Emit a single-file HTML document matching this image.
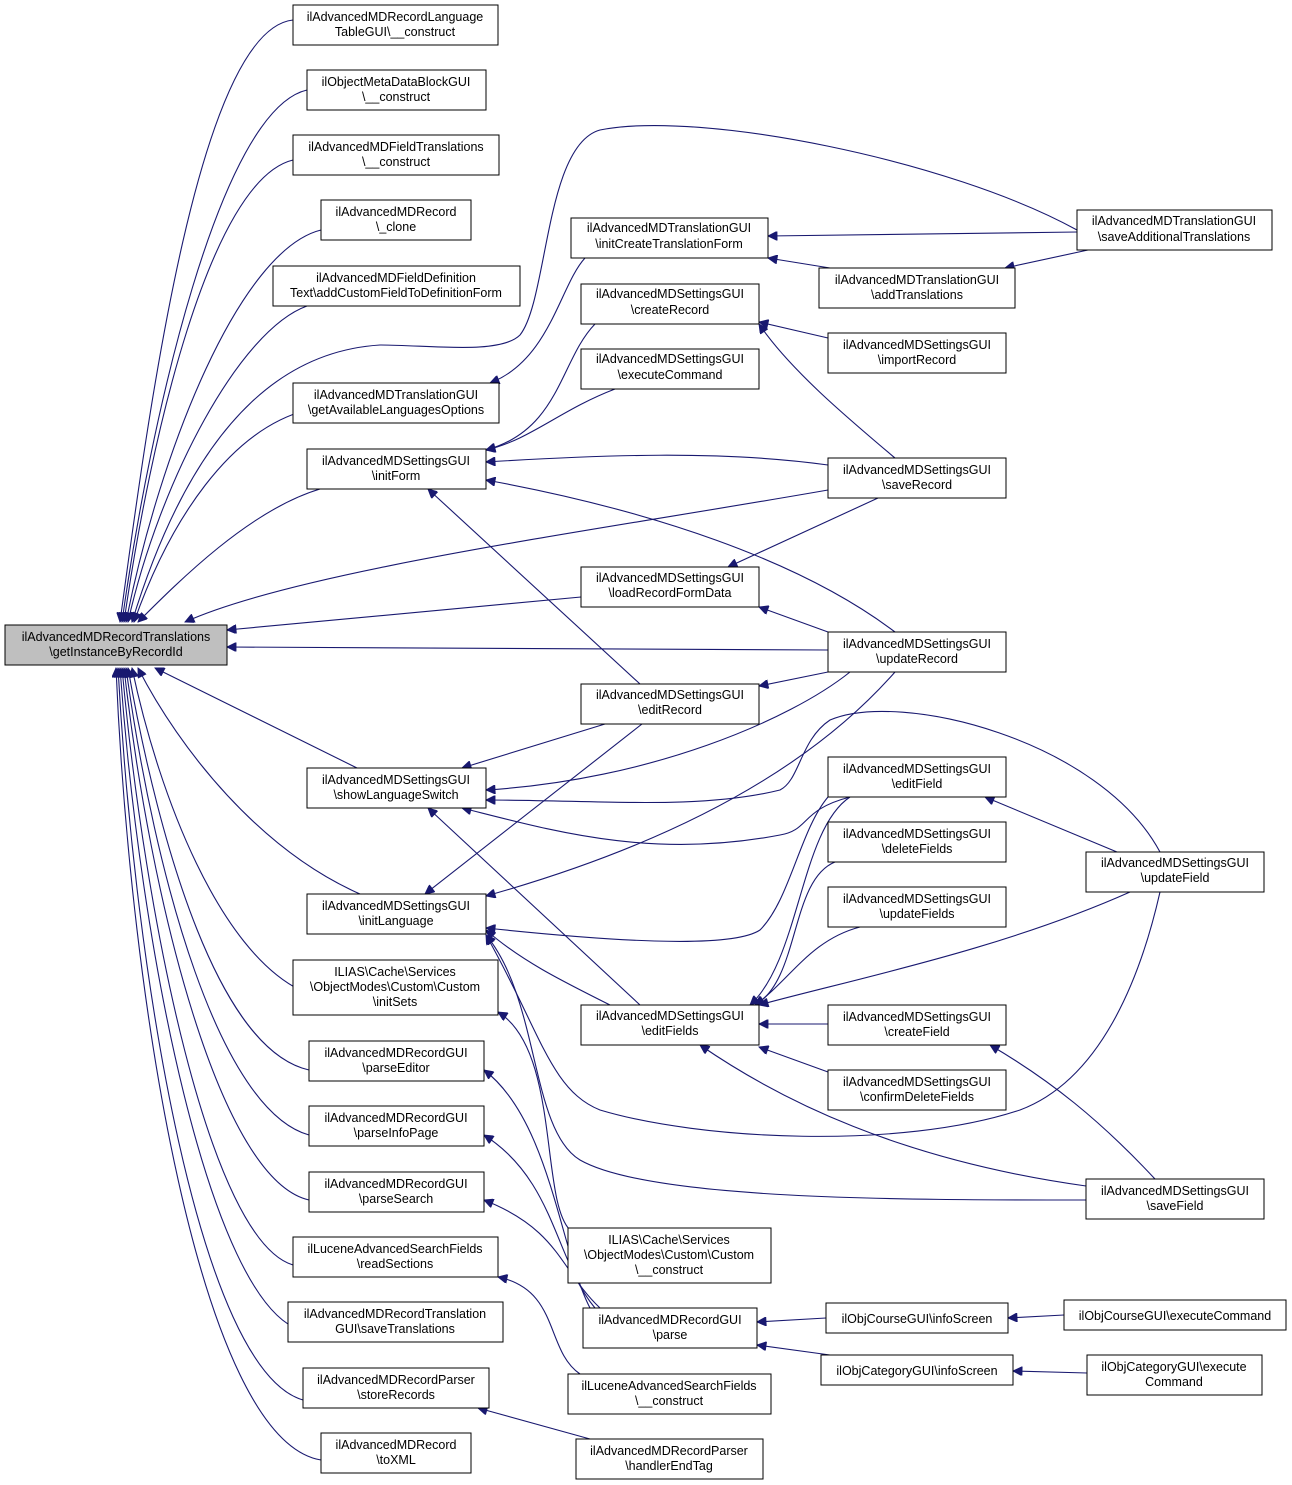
<!DOCTYPE html>
<html><head><meta charset="utf-8"><style>
html,body{margin:0;padding:0;background:#fff}
svg{display:block}
text{font-family:"Liberation Sans",Helvetica,Arial,sans-serif;font-size:12.5px;fill:#000}
.e{fill:none;stroke:#191970;stroke-width:1.1;marker-end:url(#a)}
rect{fill:#fff;stroke:#000;stroke-width:1}
</style></head><body>
<svg width="1292" height="1485" viewBox="0 0 1292 1485" xmlns="http://www.w3.org/2000/svg">
<defs><marker id="a" viewBox="0 0 10 10" refX="10" refY="5" markerWidth="11" markerHeight="9" markerUnits="userSpaceOnUse" orient="auto"><path d="M0,0 L10,5 L0,10 z" fill="#191970" stroke="#191970"/></marker></defs>
<g>
<path class="e" d="M293,20 C200,30 150,400 120,622"/>
<path class="e" d="M307,90 C220,110 150,420 122,622"/>
<path class="e" d="M293,160 C210,180 150,440 124,622"/>
<path class="e" d="M321,230 C240,250 160,450 126,622"/>
<path class="e" d="M307,306 C240,330 160,480 128,622"/>
<path class="e" d="M1077,230 C950,160 700,110 600,130 C545,145 548,300 520,335 C500,355 430,345 380,345 C300,350 200,400 132,622"/>
<path class="e" d="M307,410 C230,430 170,520 134,622"/>
<path class="e" d="M320,489 C250,510 180,580 138,622"/>
<path class="e" d="M828,490 C600,530 300,570 185,622"/>
<path class="e" d="M581,597 L227,630"/>
<path class="e" d="M828,650 L227,647"/>
<path class="e" d="M357,768 L155,668"/>
<path class="e" d="M360,894 C260,850 180,750 138,668"/>
<path class="e" d="M300,990 C220,950 160,800 132,668"/>
<path class="e" d="M309,1070 C220,1050 160,850 128,668"/>
<path class="e" d="M309,1135 C220,1110 155,880 126,668"/>
<path class="e" d="M309,1200 C220,1180 150,900 124,668"/>
<path class="e" d="M293,1265 C210,1240 145,920 122,668"/>
<path class="e" d="M300,1330 C210,1300 140,950 120,668"/>
<path class="e" d="M303,1400 C200,1370 135,980 118,668"/>
<path class="e" d="M321,1460 C200,1440 130,1000 116,668"/>

<path class="e" d="M1077,232 L768,236"/>
<path class="e" d="M830,268 L768,258"/>
<path class="e" d="M1088,250 L1005,268"/>
<path class="e" d="M585,258 C560,285 550,360 490,383"/>
<path class="e" d="M595,324 C560,360 560,430 486,450"/>
<path class="e" d="M615,389 C560,410 530,440 486,450"/>
<path class="e" d="M828,465 C720,450 600,455 486,462"/>
<path class="e" d="M895,632 C800,560 650,510 486,480"/>
<path class="e" d="M640,684 L428,489"/>
<path class="e" d="M828,338 L759,322"/>
<path class="e" d="M895,458 C850,420 790,370 759,324"/>
<path class="e" d="M878,498 L728,567"/>
<path class="e" d="M828,632 L759,607"/>
<path class="e" d="M828,672 L759,686"/>
<path class="e" d="M605,724 L462,768"/>
<path class="e" d="M850,672 C790,720 650,780 486,790"/>
<path class="e" d="M1160,852 C1100,740 900,690 830,720 C800,740 800,780 780,790 C700,810 600,800 486,800"/>
<path class="e" d="M850,797 C800,810 810,830 780,835 C650,860 550,830 462,808"/>
<path class="e" d="M640,1005 L428,808"/>
<path class="e" d="M642,724 L425,894"/>
<path class="e" d="M895,672 C800,780 650,850 486,896"/>
<path class="e" d="M828,797 C800,830 790,900 760,930 C730,950 600,940 486,928"/>
<path class="e" d="M1160,892 C1140,980 1100,1080 1020,1110 C900,1150 700,1140 600,1110 C550,1090 540,1030 486,935"/>
<path class="e" d="M1086,1200 C900,1200 650,1200 580,1160 C530,1130 540,1000 486,935"/>
<path class="e" d="M610,1005 C560,980 520,960 486,930"/>
<path class="e" d="M570,1230 C540,1200 560,1050 498,1012"/>
<path class="e" d="M850,797 C800,830 800,960 750,1005"/>
<path class="e" d="M835,862 C790,880 800,980 755,1005"/>
<path class="e" d="M860,927 C810,940 790,980 755,1005"/>
<path class="e" d="M1130,892 C1000,950 850,980 759,1005"/>
<path class="e" d="M828,1024 L759,1024"/>
<path class="e" d="M828,1072 L759,1047"/>
<path class="e" d="M1086,1186 C900,1160 780,1100 700,1045"/>
<path class="e" d="M1117,852 L985,797"/>
<path class="e" d="M1155,1179 C1100,1120 1050,1080 990,1045"/>
<path class="e" d="M590,1308 C560,1250 550,1120 484,1070"/>
<path class="e" d="M595,1308 C555,1260 555,1180 484,1135"/>
<path class="e" d="M600,1308 C560,1270 560,1230 484,1200"/>
<path class="e" d="M580,1374 C545,1350 560,1290 498,1277"/>
<path class="e" d="M590,1439 L478,1408"/>
<path class="e" d="M826,1318 L757,1322"/>
<path class="e" d="M830,1355 L757,1345"/>
<path class="e" d="M1064,1315 L1008,1318"/>
<path class="e" d="M1087,1373 L1013,1371"/>
</g>
<g text-anchor="middle">
<rect x="5" y="625" width="222" height="40" style="fill:#bfbfbf"/><text x="116" y="641">ilAdvancedMDRecordTranslations</text><text x="116" y="656">\getInstanceByRecordId</text>

<rect x="293" y="5" width="205" height="40"/><text x="395" y="21">ilAdvancedMDRecordLanguage</text><text x="395" y="36">TableGUI\__construct</text>
<rect x="307" y="70" width="179" height="40"/><text x="396" y="86">ilObjectMetaDataBlockGUI</text><text x="396" y="101">\__construct</text>
<rect x="293" y="135" width="206" height="40"/><text x="396" y="151">ilAdvancedMDFieldTranslations</text><text x="396" y="166">\__construct</text>
<rect x="321" y="200" width="150" height="40"/><text x="396" y="216">ilAdvancedMDRecord</text><text x="396" y="231">\_clone</text>
<rect x="273" y="266" width="247" height="40"/><text x="396" y="282">ilAdvancedMDFieldDefinition</text><text x="396" y="297">Text\addCustomFieldToDefinitionForm</text>
<rect x="293" y="383" width="206" height="40"/><text x="396" y="399">ilAdvancedMDTranslationGUI</text><text x="396" y="414">\getAvailableLanguagesOptions</text>
<rect x="307" y="449" width="179" height="40"/><text x="396" y="465">ilAdvancedMDSettingsGUI</text><text x="396" y="480">\initForm</text>
<rect x="307" y="768" width="179" height="40"/><text x="396" y="784">ilAdvancedMDSettingsGUI</text><text x="396" y="799">\showLanguageSwitch</text>
<rect x="307" y="894" width="179" height="40"/><text x="396" y="910">ilAdvancedMDSettingsGUI</text><text x="396" y="925">\initLanguage</text>
<rect x="293" y="960" width="205" height="55"/><text x="395" y="976">ILIAS\Cache\Services</text><text x="395" y="991">\ObjectModes\Custom\Custom</text><text x="395" y="1006">\initSets</text>
<rect x="309" y="1041" width="175" height="40"/><text x="396" y="1057">ilAdvancedMDRecordGUI</text><text x="396" y="1072">\parseEditor</text>
<rect x="309" y="1106" width="175" height="40"/><text x="396" y="1122">ilAdvancedMDRecordGUI</text><text x="396" y="1137">\parseInfoPage</text>
<rect x="309" y="1172" width="175" height="40"/><text x="396" y="1188">ilAdvancedMDRecordGUI</text><text x="396" y="1203">\parseSearch</text>
<rect x="293" y="1237" width="205" height="40"/><text x="395" y="1253">ilLuceneAdvancedSearchFields</text><text x="395" y="1268">\readSections</text>
<rect x="288" y="1302" width="215" height="40"/><text x="395" y="1318">ilAdvancedMDRecordTranslation</text><text x="395" y="1333">GUI\saveTranslations</text>
<rect x="303" y="1368" width="186" height="40"/><text x="396" y="1384">ilAdvancedMDRecordParser</text><text x="396" y="1399">\storeRecords</text>
<rect x="321" y="1433" width="150" height="40"/><text x="396" y="1449">ilAdvancedMDRecord</text><text x="396" y="1464">\toXML</text>

<rect x="571" y="218" width="197" height="40"/><text x="669" y="232">ilAdvancedMDTranslationGUI</text><text x="669" y="248">\initCreateTranslationForm</text>
<rect x="581" y="284" width="178" height="40"/><text x="670" y="298">ilAdvancedMDSettingsGUI</text><text x="670" y="314">\createRecord</text>
<rect x="581" y="349" width="178" height="40"/><text x="670" y="363">ilAdvancedMDSettingsGUI</text><text x="670" y="379">\executeCommand</text>
<rect x="581" y="567" width="178" height="40"/><text x="670" y="582">ilAdvancedMDSettingsGUI</text><text x="670" y="597">\loadRecordFormData</text>
<rect x="581" y="684" width="178" height="40"/><text x="670" y="699">ilAdvancedMDSettingsGUI</text><text x="670" y="714">\editRecord</text>
<rect x="581" y="1005" width="178" height="40"/><text x="670" y="1020">ilAdvancedMDSettingsGUI</text><text x="670" y="1035">\editFields</text>
<rect x="568" y="1228" width="203" height="55"/><text x="669" y="1244">ILIAS\Cache\Services</text><text x="669" y="1259">\ObjectModes\Custom\Custom</text><text x="669" y="1274">\__construct</text>
<rect x="583" y="1308" width="174" height="40"/><text x="670" y="1324">ilAdvancedMDRecordGUI</text><text x="670" y="1339">\parse</text>
<rect x="568" y="1374" width="203" height="40"/><text x="669" y="1390">ilLuceneAdvancedSearchFields</text><text x="669" y="1405">\__construct</text>
<rect x="576" y="1439" width="187" height="40"/><text x="669" y="1455">ilAdvancedMDRecordParser</text><text x="669" y="1470">\handlerEndTag</text>

<rect x="819" y="268" width="196" height="40"/><text x="917" y="284">ilAdvancedMDTranslationGUI</text><text x="917" y="299">\addTranslations</text>
<rect x="828" y="333" width="178" height="40"/><text x="917" y="349">ilAdvancedMDSettingsGUI</text><text x="917" y="364">\importRecord</text>
<rect x="828" y="458" width="178" height="40"/><text x="917" y="474">ilAdvancedMDSettingsGUI</text><text x="917" y="489">\saveRecord</text>
<rect x="828" y="632" width="178" height="40"/><text x="917" y="648">ilAdvancedMDSettingsGUI</text><text x="917" y="663">\updateRecord</text>
<rect x="828" y="757" width="178" height="40"/><text x="917" y="773">ilAdvancedMDSettingsGUI</text><text x="917" y="788">\editField</text>
<rect x="828" y="822" width="178" height="40"/><text x="917" y="838">ilAdvancedMDSettingsGUI</text><text x="917" y="853">\deleteFields</text>
<rect x="828" y="887" width="178" height="40"/><text x="917" y="903">ilAdvancedMDSettingsGUI</text><text x="917" y="918">\updateFields</text>
<rect x="828" y="1005" width="178" height="40"/><text x="917" y="1021">ilAdvancedMDSettingsGUI</text><text x="917" y="1036">\createField</text>
<rect x="828" y="1070" width="178" height="40"/><text x="917" y="1086">ilAdvancedMDSettingsGUI</text><text x="917" y="1101">\confirmDeleteFields</text>
<rect x="826" y="1303" width="182" height="30"/><text x="917" y="1323">ilObjCourseGUI\infoScreen</text>
<rect x="821" y="1355" width="192" height="30"/><text x="917" y="1375">ilObjCategoryGUI\infoScreen</text>

<rect x="1077" y="210" width="195" height="40"/><text x="1174" y="225">ilAdvancedMDTranslationGUI</text><text x="1174" y="241">\saveAdditionalTranslations</text>
<rect x="1086" y="852" width="178" height="40"/><text x="1175" y="867">ilAdvancedMDSettingsGUI</text><text x="1175" y="882">\updateField</text>
<rect x="1086" y="1179" width="178" height="40"/><text x="1175" y="1195">ilAdvancedMDSettingsGUI</text><text x="1175" y="1210">\saveField</text>
<rect x="1064" y="1300" width="222" height="30"/><text x="1175" y="1320">ilObjCourseGUI\executeCommand</text>
<rect x="1087" y="1355" width="175" height="40"/><text x="1174" y="1371">ilObjCategoryGUI\execute</text><text x="1174" y="1386">Command</text>
</g>
</svg>
</body></html>
